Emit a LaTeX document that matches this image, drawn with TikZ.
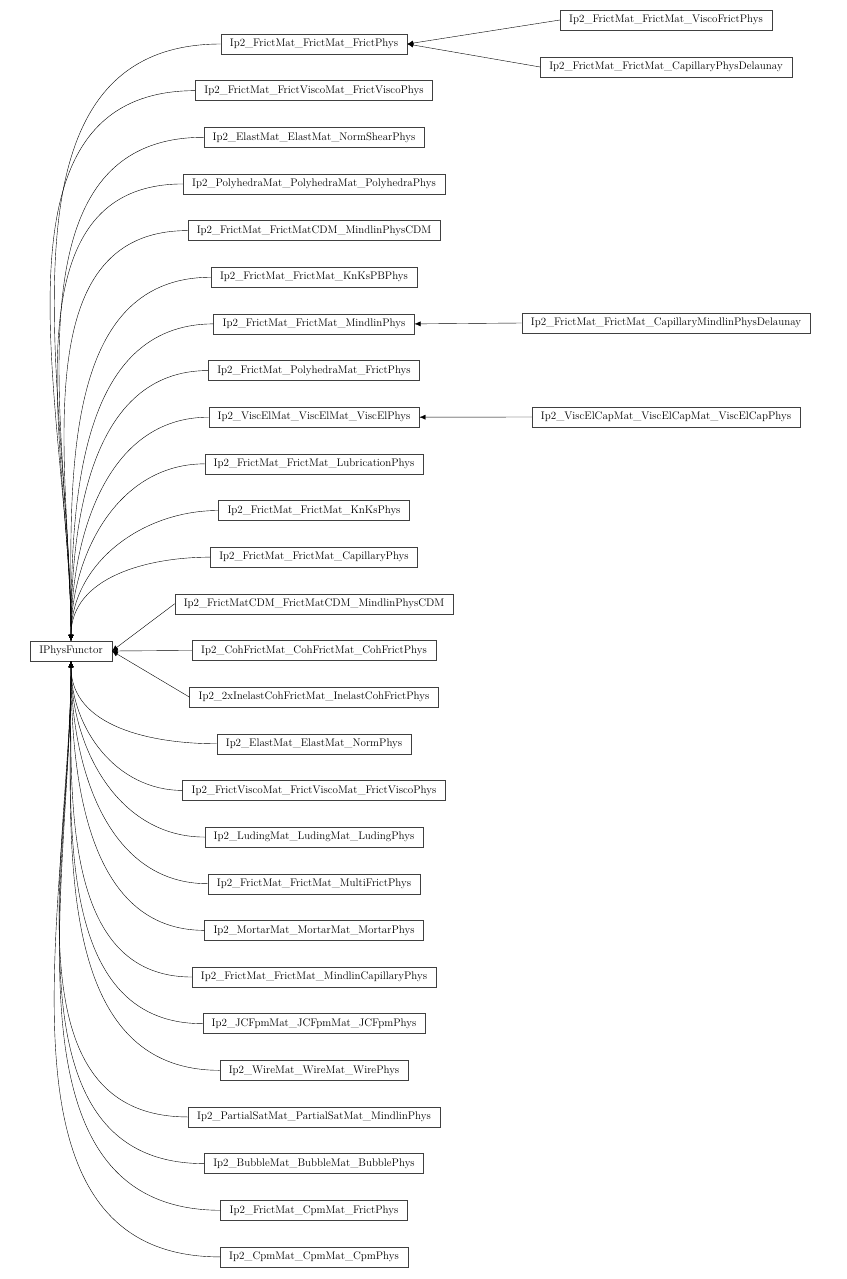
\documentclass[tikz,border=0pt]{standalone}
\usetikzlibrary{arrows.meta,positioning}
\tikzset{
  cls/.style={draw=black!75, thin, fill=white, minimum height=20pt, inner xsep=9pt, inner ysep=0pt, font=\fontsize{11}{12}\selectfont},
  inh/.style={thin, {Latex[length=6pt,width=5pt]}-},
}
\begin{document}
\begin{tikzpicture}[x=1pt,y=-1pt]
\useasboundingbox (0,0) rectangle (846,1279);
\node[cls] (ip) at (71,651) {IPhysFunctor};
% direct children of IPhysFunctor
\foreach \t [count=\i] in {
  Ip2\_FrictMat\_FrictMat\_FrictPhys,
  Ip2\_FrictMat\_FrictViscoMat\_FrictViscoPhys,
  Ip2\_ElastMat\_ElastMat\_NormShearPhys,
  Ip2\_PolyhedraMat\_PolyhedraMat\_PolyhedraPhys,
  Ip2\_FrictMat\_FrictMatCDM\_MindlinPhysCDM,
  Ip2\_FrictMat\_FrictMat\_KnKsPBPhys,
  Ip2\_FrictMat\_FrictMat\_MindlinPhys,
  Ip2\_FrictMat\_PolyhedraMat\_FrictPhys,
  Ip2\_ViscElMat\_ViscElMat\_ViscElPhys,
  Ip2\_FrictMat\_FrictMat\_LubricationPhys,
  Ip2\_FrictMat\_FrictMat\_KnKsPhys,
  Ip2\_FrictMat\_FrictMat\_CapillaryPhys,
  Ip2\_FrictMatCDM\_FrictMatCDM\_MindlinPhysCDM,
  Ip2\_CohFrictMat\_CohFrictMat\_CohFrictPhys,
  Ip2\_2xInelastCohFrictMat\_InelastCohFrictPhys,
  Ip2\_ElastMat\_ElastMat\_NormPhys,
  Ip2\_FrictViscoMat\_FrictViscoMat\_FrictViscoPhys,
  Ip2\_LudingMat\_LudingMat\_LudingPhys,
  Ip2\_FrictMat\_FrictMat\_MultiFrictPhys,
  Ip2\_MortarMat\_MortarMat\_MortarPhys,
  Ip2\_FrictMat\_FrictMat\_MindlinCapillaryPhys,
  Ip2\_JCFpmMat\_JCFpmMat\_JCFpmPhys,
  Ip2\_WireMat\_WireMat\_WirePhys,
  Ip2\_PartialSatMat\_PartialSatMat\_MindlinPhys,
  Ip2\_BubbleMat\_BubbleMat\_BubblePhys,
  Ip2\_FrictMat\_CpmMat\_FrictPhys,
  Ip2\_CpmMat\_CpmMat\_CpmPhys}
{
  \node[cls] (m\i) at (314,{44+(\i-1)*46.65}) {\t};
  \ifnum\i<13
    \draw[inh] (ip.north) to[out=90,in=180] (m\i.west);
  \else\ifnum\i>15
    \draw[inh] (ip.south) to[out=-90,in=180] (m\i.west);
  \else
    \draw[inh] (ip.east) -- (m\i.west);
  \fi\fi
}
% second level
\node[cls] (r1) at (666,20) {Ip2\_FrictMat\_FrictMat\_ViscoFrictPhys};
\node[cls] (r2) at (666,67) {Ip2\_FrictMat\_FrictMat\_CapillaryPhysDelaunay};
\node[cls] (r3) at (666,323) {Ip2\_FrictMat\_FrictMat\_CapillaryMindlinPhysDelaunay};
\node[cls] (r4) at (666,417) {Ip2\_ViscElCapMat\_ViscElCapMat\_ViscElCapPhys};
\draw[inh] (m1.east) -- (r1.west);
\draw[inh] (m1.east) -- (r2.west);
\draw[inh] (m7.east) -- (r3.west);
\draw[inh] (m9.east) -- (r4.west);
\end{tikzpicture}
\end{document}
